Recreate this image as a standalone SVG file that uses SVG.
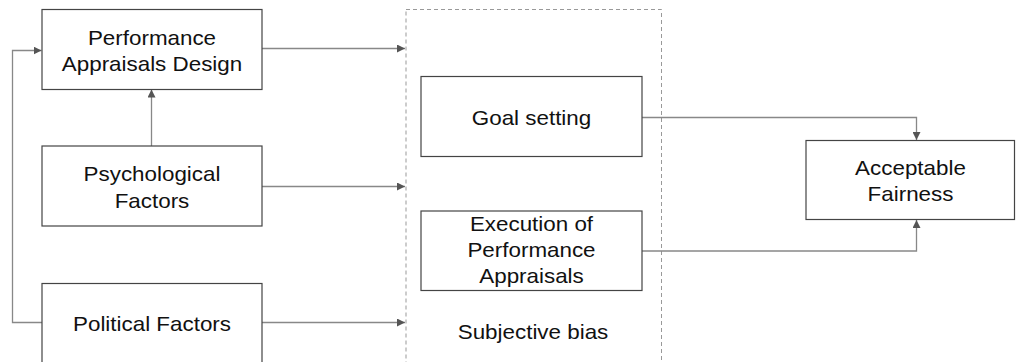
<svg xmlns="http://www.w3.org/2000/svg" width="1016" height="362" viewBox="0 0 1016 362">
<style>
.box{fill:#fff;stroke:#444;stroke-width:1.2}
.t{font-family:"Liberation Sans",Arial,sans-serif;font-size:20px;fill:#111;text-anchor:middle}
.c{fill:none;stroke:#888;stroke-width:1.3}
.d{fill:none;stroke:#999;stroke-width:1;stroke-dasharray:4 3}
</style>
<defs>
<marker id="ah" viewBox="0 0 10 10" refX="10" refY="5" markerWidth="8" markerHeight="8" markerUnits="userSpaceOnUse" orient="auto">
<path d="M0,0 L10,5 L0,10 Z" fill="#555"/>
</marker>
</defs>
<rect x="0" y="0" width="1016" height="362" fill="#fff"/>
<g id="subjective-bias">
<rect class="d" x="406" y="9.5" width="255.5" height="360"/>
<text class="t" transform="translate(533,339.3) scale(1.12,1)">Subjective bias</text>
</g>
<g id="connectors">
<path class="c" d="M262,48.5 H405" marker-end="url(#ah)"/>
<path class="c" d="M262,186.5 H405" marker-end="url(#ah)"/>
<path class="c" d="M262,322.5 H405" marker-end="url(#ah)"/>
<path class="c" d="M151.5,146 V89.5" marker-end="url(#ah)"/>
<path class="c" d="M42,322.5 H12.5 V50.5 H41.5" marker-end="url(#ah)"/>
<path class="c" d="M642,117.5 H916.5 V140" marker-end="url(#ah)"/>
<path class="c" d="M642,251 H916.5 V220" marker-end="url(#ah)"/>
</g>
<g id="pad">
<rect class="box" x="42" y="9.5" width="220" height="80"/>
<text class="t" transform="translate(152,44.5) scale(1.12,1)">Performance</text>
<text class="t" transform="translate(152,71.2) scale(1.12,1)">Appraisals Design</text>
</g>
<g id="psych">
<rect class="box" x="42" y="146" width="220" height="80"/>
<text class="t" transform="translate(152,181.2) scale(1.12,1)">Psychological</text>
<text class="t" transform="translate(152,207.9) scale(1.12,1)">Factors</text>
</g>
<g id="political">
<rect class="box" x="42" y="283.5" width="220" height="85"/>
<text class="t" transform="translate(152,331.2) scale(1.12,1)">Political Factors</text>
</g>
<g id="goal">
<rect class="box" x="421" y="76.5" width="221" height="80"/>
<text class="t" transform="translate(531.5,124.5) scale(1.12,1)">Goal setting</text>
</g>
<g id="execution">
<rect class="box" x="421" y="211" width="221" height="79.5"/>
<text class="t" transform="translate(531.5,230.9) scale(1.12,1)">Execution of</text>
<text class="t" transform="translate(531.5,257) scale(1.12,1)">Performance</text>
<text class="t" transform="translate(531.5,283.4) scale(1.12,1)">Appraisals</text>
</g>
<g id="fairness">
<rect class="box" x="806" y="140.5" width="208.5" height="79"/>
<text class="t" transform="translate(910.5,174.5) scale(1.12,1)">Acceptable</text>
<text class="t" transform="translate(910.5,201) scale(1.12,1)">Fairness</text>
</g>
</svg>
